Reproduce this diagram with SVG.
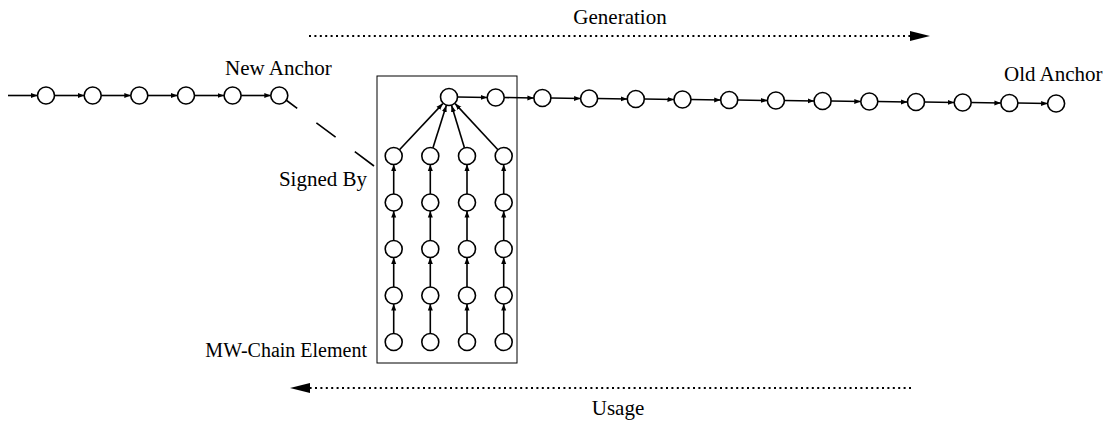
<svg xmlns="http://www.w3.org/2000/svg" width="1107" height="423" viewBox="0 0 1107 423">
<style>
.n{fill:#fff;stroke:#000;stroke-width:1.6}
.e{stroke:#000;stroke-width:1.6;fill:none;marker-end:url(#ah)}
.dot{stroke:#000;stroke-width:2;stroke-dasharray:2 3.4;fill:none}
</style>
<defs>
<marker id="ah" markerUnits="userSpaceOnUse" markerWidth="7" markerHeight="6" refX="6.5" refY="3" orient="auto">
<path d="M0,0.5 L6.5,3 L0,5.5 z" fill="#000"/>
</marker>
<marker id="big" markerUnits="userSpaceOnUse" markerWidth="20" markerHeight="12" refX="0" refY="6" orient="auto">
<path d="M0,1 L20,6 L0,11 z" fill="#000"/>
</marker>
</defs>
<rect id="box" x="377" y="76" width="140" height="287" fill="none" stroke="#000" stroke-width="1"/>
<g id="connectors">
<line class="e" x1="8" y1="95.5" x2="37.5" y2="95.5"/>
<line class="e" x1="54.5" y1="95.5" x2="84.2" y2="95.5"/>
<line class="e" x1="101.2" y1="95.5" x2="130.8" y2="95.5"/>
<line class="e" x1="147.8" y1="95.5" x2="177.5" y2="95.5"/>
<line class="e" x1="194.5" y1="95.5" x2="224.1" y2="95.5"/>
<line class="e" x1="241.1" y1="95.5" x2="270.8" y2="95.5"/>
<line x1="286" y1="100" x2="374" y2="166" stroke="#000" stroke-width="1.6" stroke-dasharray="24 24" stroke-dashoffset="10"/>
<line class="e" x1="457.5" y1="97" x2="487.2" y2="97.5"/>
<line class="e" x1="504.2" y1="97.5" x2="533.9" y2="98"/>
<line class="e" x1="550.9" y1="98" x2="580.6" y2="98.5"/>
<line class="e" x1="597.6" y1="98.5" x2="627.3" y2="99"/>
<line class="e" x1="644.3" y1="99" x2="674" y2="99.5"/>
<line class="e" x1="691" y1="99.5" x2="720.7" y2="100"/>
<line class="e" x1="737.7" y1="100" x2="767.4" y2="100.5"/>
<line class="e" x1="784.4" y1="100.5" x2="814.1" y2="101"/>
<line class="e" x1="831.1" y1="101" x2="860.8" y2="101.5"/>
<line class="e" x1="877.8" y1="101.5" x2="907.5" y2="102"/>
<line class="e" x1="924.5" y1="102" x2="954.2" y2="102.5"/>
<line class="e" x1="971.2" y1="102.5" x2="1000.9" y2="103"/>
<line class="e" x1="1017.9" y1="103" x2="1047.6" y2="103.5"/>
<line class="e" x1="399.5" y1="149.8" x2="442.8" y2="103.6"/>
<line class="e" x1="432.9" y1="147.9" x2="446.3" y2="105.6"/>
<line class="e" x1="464.5" y1="147.9" x2="451.6" y2="105.6"/>
<line class="e" x1="497.9" y1="149.8" x2="455.1" y2="103.6"/>
<line class="e" x1="393.7" y1="333.5" x2="393.7" y2="304"/>
<line class="e" x1="393.7" y1="287" x2="393.7" y2="257.5"/>
<line class="e" x1="393.7" y1="240.5" x2="393.7" y2="211"/>
<line class="e" x1="393.7" y1="194" x2="393.7" y2="164.5"/>
<line class="e" x1="430.3" y1="333.5" x2="430.3" y2="304"/>
<line class="e" x1="430.3" y1="287" x2="430.3" y2="257.5"/>
<line class="e" x1="430.3" y1="240.5" x2="430.3" y2="211"/>
<line class="e" x1="430.3" y1="194" x2="430.3" y2="164.5"/>
<line class="e" x1="467" y1="333.5" x2="467" y2="304"/>
<line class="e" x1="467" y1="287" x2="467" y2="257.5"/>
<line class="e" x1="467" y1="240.5" x2="467" y2="211"/>
<line class="e" x1="467" y1="194" x2="467" y2="164.5"/>
<line class="e" x1="503.7" y1="333.5" x2="503.7" y2="304"/>
<line class="e" x1="503.7" y1="287" x2="503.7" y2="257.5"/>
<line class="e" x1="503.7" y1="240.5" x2="503.7" y2="211"/>
<line class="e" x1="503.7" y1="194" x2="503.7" y2="164.5"/>
<line class="dot" x1="309" y1="36" x2="910" y2="36" marker-end="url(#big)"/>
<line class="dot" x1="911" y1="388" x2="310" y2="388" marker-end="url(#big)"/>
</g>
<g id="left-chain">
<g id="l1"><circle class="n" cx="46" cy="95.5" r="8.5"/></g>
<g id="l2"><circle class="n" cx="92.7" cy="95.5" r="8.5"/></g>
<g id="l3"><circle class="n" cx="139.3" cy="95.5" r="8.5"/></g>
<g id="l4"><circle class="n" cx="186" cy="95.5" r="8.5"/></g>
<g id="l5"><circle class="n" cx="232.6" cy="95.5" r="8.5"/></g>
<g id="l6-new-anchor"><circle class="n" cx="279.3" cy="95.5" r="8.5"/></g>
</g>
<g id="right-chain">
<g id="r0"><circle class="n" cx="449" cy="97" r="8.5"/></g>
<g id="r1"><circle class="n" cx="495.7" cy="97.5" r="8.5"/></g>
<g id="r2"><circle class="n" cx="542.4" cy="98" r="8.5"/></g>
<g id="r3"><circle class="n" cx="589.1" cy="98.5" r="8.5"/></g>
<g id="r4"><circle class="n" cx="635.8" cy="99" r="8.5"/></g>
<g id="r5"><circle class="n" cx="682.5" cy="99.5" r="8.5"/></g>
<g id="r6"><circle class="n" cx="729.2" cy="100" r="8.5"/></g>
<g id="r7"><circle class="n" cx="775.9" cy="100.5" r="8.5"/></g>
<g id="r8"><circle class="n" cx="822.6" cy="101" r="8.5"/></g>
<g id="r9"><circle class="n" cx="869.3" cy="101.5" r="8.5"/></g>
<g id="r10"><circle class="n" cx="916" cy="102" r="8.5"/></g>
<g id="r11"><circle class="n" cx="962.7" cy="102.5" r="8.5"/></g>
<g id="r12"><circle class="n" cx="1009.4" cy="103" r="8.5"/></g>
<g id="r13-old-anchor"><circle class="n" cx="1056.1" cy="103.5" r="8.5"/></g>
</g>
<g id="mw-chains">
<g id="c1r1"><circle class="n" cx="393.7" cy="156" r="8.5"/></g>
<g id="c1r2"><circle class="n" cx="393.7" cy="202.5" r="8.5"/></g>
<g id="c1r3"><circle class="n" cx="393.7" cy="249" r="8.5"/></g>
<g id="c1r4"><circle class="n" cx="393.7" cy="295.5" r="8.5"/></g>
<g id="c1r5"><circle class="n" cx="393.7" cy="342" r="8.5"/></g>
<g id="c2r1"><circle class="n" cx="430.3" cy="156" r="8.5"/></g>
<g id="c2r2"><circle class="n" cx="430.3" cy="202.5" r="8.5"/></g>
<g id="c2r3"><circle class="n" cx="430.3" cy="249" r="8.5"/></g>
<g id="c2r4"><circle class="n" cx="430.3" cy="295.5" r="8.5"/></g>
<g id="c2r5"><circle class="n" cx="430.3" cy="342" r="8.5"/></g>
<g id="c3r1"><circle class="n" cx="467" cy="156" r="8.5"/></g>
<g id="c3r2"><circle class="n" cx="467" cy="202.5" r="8.5"/></g>
<g id="c3r3"><circle class="n" cx="467" cy="249" r="8.5"/></g>
<g id="c3r4"><circle class="n" cx="467" cy="295.5" r="8.5"/></g>
<g id="c3r5"><circle class="n" cx="467" cy="342" r="8.5"/></g>
<g id="c4r1"><circle class="n" cx="503.7" cy="156" r="8.5"/></g>
<g id="c4r2"><circle class="n" cx="503.7" cy="202.5" r="8.5"/></g>
<g id="c4r3"><circle class="n" cx="503.7" cy="249" r="8.5"/></g>
<g id="c4r4"><circle class="n" cx="503.7" cy="295.5" r="8.5"/></g>
<g id="c4r5"><circle class="n" cx="503.7" cy="342" r="8.5"/></g>
</g>
<g id="labels" font-family="Liberation Serif, Times New Roman, serif" font-size="21" fill="#000">
<text x="225" y="75">New Anchor</text>
<text x="1004" y="81">Old Anchor</text>
<text x="367" y="186" text-anchor="end">Signed By</text>
<text x="367" y="357" text-anchor="end" font-size="20">MW-Chain Element</text>
<text x="620" y="23.5" text-anchor="middle">Generation</text>
<text x="618" y="415" text-anchor="middle">Usage</text>
</g>
</svg>
